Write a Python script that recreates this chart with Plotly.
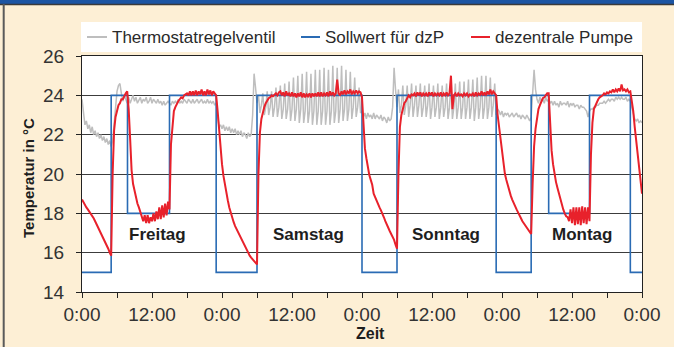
import plotly.graph_objects as go

STEP_H = 0.25  # sampling interval of the measured series (hours)

# Dezentrale Pumpe (red), one value every 0.25 h from Friday 0:00
pump_values = [
    18.7, 18.55, 18.45, 18.3, 18.2, 18.1, 18.0, 17.9, 17.75, 17.6, 17.45, 17.3,
    17.1, 16.95, 16.8, 16.65, 16.5, 16.35, 16.2, 16.0, 15.85, 20.0, 22.2, 22.9,
    23.2, 23.5, 23.6, 23.8, 23.8, 24.0, 24.1, 24.2, 23.3, 21.8, 20.2, 19.5,
    19.1, 18.8, 18.5, 18.3, 18.1, 17.8, 17.6, 17.9, 17.5, 17.9, 17.5, 17.8,
    17.6, 18.0, 17.6, 18.1, 17.7, 18.3, 17.7, 18.4, 17.8, 18.5, 17.9, 18.6,
    18.2, 21.5, 22.6, 23.2, 23.4, 23.6, 23.7, 23.8, 23.9, 23.85, 24.0, 24.05,
    24.1, 24.0, 24.2, 24.0, 24.2, 24.0, 24.25, 24.0, 24.2, 24.05, 24.3, 24.0,
    24.2, 24.0, 24.3, 24.05, 24.25, 24.0, 24.2, 24.1, 24.0, 23.2, 22.2, 21.2,
    20.5, 19.9, 19.4, 19.0, 18.65, 18.3, 18.0, 17.75, 17.55, 17.35, 17.2, 17.0,
    16.85, 16.7, 16.55, 16.4, 16.25, 16.1, 15.95, 15.85, 15.75, 15.65, 15.55, 15.45,
    15.4, 20.0, 22.1, 22.8, 23.2, 23.4, 23.6, 23.75, 23.85, 23.9, 24.0, 23.95,
    24.05, 24.1, 24.0, 24.15, 24.2, 24.0, 24.15, 23.95, 24.2, 24.0, 24.1, 23.95,
    24.15, 23.95, 24.1, 23.9, 24.1, 23.95, 24.15, 23.9, 24.1, 23.9, 24.05, 23.95,
    24.1, 23.9, 24.1, 23.95, 24.1, 23.95, 24.15, 23.95, 24.15, 23.95, 24.1, 24.0,
    24.15, 23.95, 24.2, 24.0, 24.15, 24.0, 24.1, 24.8, 24.1, 24.0, 24.2, 24.05,
    24.25, 24.05, 24.2, 24.1, 24.3, 24.05, 24.2, 24.1, 24.25, 24.1, 24.2, 24.15,
    23.9, 22.2, 21.3, 20.8, 20.3, 19.95, 19.7, 19.45, 19.0, 18.8, 18.65, 18.5,
    18.3, 18.15, 18.0, 17.8, 17.6, 17.4, 17.25, 17.1, 16.95, 16.8, 16.65, 16.4,
    16.2, 20.0, 22.4, 23.0, 23.4, 23.6, 23.7, 23.85, 24.0, 23.9, 24.05, 24.0,
    24.1, 23.95, 24.15, 24.0, 24.15, 23.95, 24.1, 24.0, 24.1, 23.95, 24.15, 24.0,
    24.15, 23.95, 24.1, 24.0, 24.1, 24.0, 24.15, 23.95, 24.1, 24.0, 24.15, 24.0,
    24.1, 25.0, 23.3, 24.0, 24.1, 23.95, 24.1, 24.0, 24.05, 23.95, 24.1, 24.0,
    24.1, 23.95, 24.05, 24.0, 24.1, 23.95, 24.15, 24.0, 24.1, 24.0, 24.2, 24.0,
    24.15, 24.0, 24.2, 24.05, 24.3, 24.05, 24.2, 24.1, 24.0, 23.0, 22.4, 21.7,
    21.0, 20.5, 20.0, 19.7, 19.4, 19.15, 18.9, 18.7, 18.5, 18.35, 18.2, 18.05,
    17.85, 17.75, 17.6, 17.5, 17.35, 17.25, 17.15, 17.05, 16.95, 19.5, 21.4, 22.3,
    22.9, 23.3, 23.5, 23.7, 23.85, 23.9, 24.0, 24.1, 24.1, 22.2, 21.2, 20.5,
    20.0, 19.6, 19.3, 19.0, 18.7, 18.4, 18.2, 18.0, 17.85, 17.8, 17.6, 18.2,
    17.5, 18.3, 17.4, 18.3, 17.45, 18.3, 17.4, 18.35, 17.5, 18.3, 17.45, 18.3,
    17.6, 21.0, 22.6, 23.3, 23.5, 23.7, 23.8, 23.9, 23.95, 24.0, 24.1, 24.05,
    24.15, 24.1, 24.2, 24.15, 24.3, 24.15, 24.3, 24.2, 24.35, 24.2, 24.55, 24.25,
    24.3, 24.2, 24.3, 24.15, 24.2, 23.8, 23.2, 22.4, 21.7, 21.0, 20.3, 19.6,
    19.0,
]

# Thermostatregelventil (grey), one value every 0.25 h from Friday 0:00
valve_values = [
    23.8, 23.0, 22.5, 22.7, 22.3, 22.5, 22.1, 22.4, 22.0, 22.2, 21.9, 22.1,
    21.8, 22.0, 21.7, 21.9, 21.6, 21.8, 21.5, 21.7, 21.4, 21.7, 22.6, 23.6,
    24.2, 24.5, 24.6, 24.1, 23.7, 24.0, 23.8, 23.6, 23.9, 23.6, 23.8, 24.0,
    23.7, 23.9, 23.6, 23.8, 23.9, 23.6, 23.8, 23.7, 23.9, 23.6, 23.7, 23.9,
    23.6, 23.8, 23.7, 23.6, 23.8, 23.6, 23.7, 23.5, 23.7, 23.5, 23.6, 23.7,
    23.6, 23.5, 23.7, 23.6, 23.7, 23.6, 23.8, 23.6, 23.7, 23.6, 23.8, 23.7,
    23.6, 23.8, 23.7, 23.6, 23.8, 23.6, 23.7, 23.8, 23.6, 23.7, 23.8, 23.6,
    23.7, 23.6, 23.8, 23.6, 23.7, 23.6, 23.7, 23.5, 23.6, 22.9, 22.4, 22.5,
    22.3, 22.5, 22.2, 22.4, 22.2, 22.4, 22.1, 22.3, 22.1, 22.3, 22.0, 22.2,
    22.0, 22.2, 21.9, 22.1, 22.0, 21.8, 22.1, 21.9, 22.0, 23.0, 25.1, 24.4,
    23.6, 24.0, 23.1, 23.5, 24.1, 23.0, 23.4, 24.2, 23.0, 23.4, 24.2, 22.9,
    23.4, 24.4, 22.9, 23.4, 24.5, 22.8, 23.3, 24.6, 22.8, 23.3, 24.7, 22.7,
    23.3, 24.9, 22.7, 23.3, 25.0, 22.6, 23.3, 25.1, 22.6, 23.2, 25.2, 22.6,
    23.2, 25.1, 22.5, 23.2, 25.3, 22.5, 23.2, 25.3, 22.5, 23.2, 25.4, 22.5,
    23.2, 25.3, 22.5, 23.2, 25.5, 22.6, 23.2, 25.4, 22.6, 23.3, 25.5, 22.7,
    23.3, 25.3, 22.7, 23.3, 25.2, 22.8, 23.4, 24.9, 22.9, 23.4, 24.4, 23.1,
    23.2, 22.9, 23.1, 22.8, 23.1, 22.9, 23.0, 22.8, 23.1, 22.8, 23.0, 22.9,
    22.8, 23.0, 22.7, 22.9, 22.8, 22.6, 22.9, 22.7, 22.8, 23.4, 25.4, 24.3,
    23.4, 24.3, 23.1, 23.5, 24.5, 23.0, 23.5, 24.5, 22.9, 23.5, 24.6, 22.9,
    23.5, 24.5, 22.9, 23.5, 24.6, 22.9, 23.4, 24.5, 22.9, 23.5, 24.6, 22.8,
    23.4, 24.5, 22.9, 23.4, 24.6, 22.8, 23.4, 24.5, 22.9, 23.4, 24.6, 22.8,
    23.4, 24.6, 22.8, 23.4, 24.6, 22.8, 23.4, 24.7, 22.8, 23.4, 24.7, 22.8,
    23.4, 24.8, 22.8, 23.4, 24.8, 22.7, 23.4, 24.9, 22.8, 23.4, 25.0, 22.8,
    23.4, 25.0, 22.8, 23.4, 24.9, 22.9, 23.5, 24.6, 23.0, 23.3, 23.2, 23.0,
    23.2, 22.9, 23.1, 23.0, 23.1, 22.9, 23.0, 23.1, 22.9, 23.0, 23.1, 22.9,
    23.0, 22.8, 23.0, 22.9, 22.8, 23.0, 22.8, 22.7, 22.9, 24.2, 25.3, 24.3,
    23.8, 23.6, 23.9, 23.7, 23.8, 23.6, 23.9, 23.7, 23.8, 23.6, 23.7, 23.5,
    23.7, 23.5, 23.6, 23.4, 23.7, 23.5, 23.6, 23.6, 23.5, 23.7, 23.4, 23.6,
    23.5, 23.6, 23.4, 23.5, 23.5, 23.3, 23.5, 23.4, 23.4, 23.3, 23.2, 22.9,
    23.2, 23.3, 23.3, 23.4, 23.4, 23.5, 23.5, 23.6, 23.6, 23.6, 23.7, 23.6,
    23.7, 23.8, 23.7, 23.8, 23.8, 23.7, 23.9, 23.8, 23.9, 23.8, 23.9, 23.8,
    23.8, 23.9, 23.7, 23.8, 23.7, 23.4, 23.0, 22.8, 22.7, 22.8, 22.6, 22.7,
    22.6,
]

# Sollwert für dzP (blue step function): switching times (h) and levels
setpoint_t = [0, 5, 7.8, 15, 23, 30, 48, 54, 71, 77, 80, 87, 94, 96]
setpoint_v = [15, 24, 18, 24, 15, 24, 15, 24, 15, 24, 18, 24, 15, 15]

series_names = ["Thermostatregelventil", "Sollwert für dzP", "dezentrale Pumpe"]
series_colors = ["#BEBEBE", "#2A6BB4", "#E8212B"]

day_labels = ["Freitag", "Samstag", "Sonntag", "Montag"]
day_label_t = [12.9, 38.8, 62.4, 85.7]
day_label_v = [16.9, 16.9, 16.9, 16.9]

x_tick_vals = list(range(0, 97, 6))
x_tick_text = ["0:00", "", "12:00", "", "0:00", "", "12:00", "", "0:00", "",
               "12:00", "", "0:00", "", "12:00", "", "0:00"]
y_tick_vals = [14, 16, 18, 20, 22, 24, 26]

pump_t = [i * STEP_H for i in range(len(pump_values))]
valve_t = [i * STEP_H for i in range(len(valve_values))]

FONT = "Liberation Sans"
TXT = "#2a2a2a"

fig = go.Figure()
fig.add_trace(go.Scatter(x=valve_t, y=valve_values, mode="lines", name=series_names[0],
                         line=dict(color=series_colors[0], width=1.5), showlegend=False))
fig.add_trace(go.Scatter(x=setpoint_t, y=setpoint_v, mode="lines", name=series_names[1],
                         line=dict(color=series_colors[1], width=1.6, shape="hv"), showlegend=False))
fig.add_trace(go.Scatter(x=pump_t, y=pump_values, mode="lines", name=series_names[2],
                         line=dict(color=series_colors[2], width=2), showlegend=False))

L, R, T, B = 82, 32, 56, 55
W, H = 674, 347
pw, ph = W - L - R, H - T - B


def px(xp):
    return (xp - L) / pw


def py(yp):
    return (H - B - yp) / ph


shapes = []
# top blue band and its dark edge, left grey frame line
shapes.append(dict(type="rect", xref="paper", yref="paper", x0=px(-5), x1=px(W + 5),
                   y0=py(4), y1=py(-5), fillcolor="#1C55A3", line=dict(width=0), layer="above"))
shapes.append(dict(type="line", xref="paper", yref="paper", x0=px(0), x1=px(W),
                   y0=py(4.5), y1=py(4.5), line=dict(color="#3a3a3a", width=1.5)))
shapes.append(dict(type="line", xref="paper", yref="paper", x0=px(3.7), x1=px(3.7),
                   y0=py(4), y1=py(H + 5), line=dict(color="#5a5a5a", width=2)))
# legend box
shapes.append(dict(type="rect", xref="paper", yref="paper", x0=px(81), x1=px(642),
                   y0=py(52), y1=py(22), fillcolor="white", line=dict(width=0), layer="below"))
legend_sample_x = [(87, 107), (301, 320), (471, 490)]
legend_text_x = [110, 323, 493]
leg_y = 37
annotations = []
for (a, b), tx, name, col in zip(legend_sample_x, legend_text_x, series_names, series_colors):
    shapes.append(dict(type="line", xref="paper", yref="paper", x0=px(a), x1=px(b),
                       y0=py(leg_y), y1=py(leg_y), line=dict(color=col, width=2)))
    annotations.append(dict(xref="paper", yref="paper", x=px(tx), y=py(leg_y + 0.5),
                            xanchor="left", yanchor="middle", showarrow=False, text=name,
                            font=dict(family=FONT, size=17, color=TXT)))

for lab, t, v in zip(day_labels, day_label_t, day_label_v):
    annotations.append(dict(x=t, y=v, xref="x", yref="y", text="<b>%s</b>" % lab,
                            showarrow=False, font=dict(family=FONT, size=17, color="#1e1e1e")))

annotations.append(dict(xref="paper", yref="paper", x=px(28), y=py(178), text="<b>Temperatur in °C</b>",
                        textangle=-90, showarrow=False, xanchor="center", yanchor="middle",
                        font=dict(family=FONT, size=15, color="#1e1e1e")))
annotations.append(dict(xref="paper", yref="paper", x=px(370), y=py(333), text="<b>Zeit</b>",
                        showarrow=False, xanchor="center", yanchor="middle",
                        font=dict(family=FONT, size=16, color="#1e1e1e")))

fig.update_layout(
    width=W, height=H,
    margin=dict(l=L, r=R, t=T, b=B),
    paper_bgcolor="#FDEFD5",
    plot_bgcolor="white",
    showlegend=False,
    shapes=shapes,
    annotations=annotations,
    font=dict(family=FONT, color=TXT),
)
fig.update_xaxes(range=[0, 96], tickvals=x_tick_vals, ticktext=x_tick_text,
                 showgrid=False, zeroline=False, showline=True, linecolor="#222", linewidth=1.2,
                 mirror=True, ticks="outside", ticklen=5, tickcolor="#222",
                 tickfont=dict(family=FONT, size=19, color="#333"))
fig.update_yaxes(range=[14, 26], tickvals=y_tick_vals,
                 showgrid=True, gridcolor="#3c3c3c", gridwidth=1, zeroline=False,
                 showline=True, linecolor="#222", linewidth=1.2, mirror=True,
                 ticks="outside", ticklen=5, tickcolor="#222", ticklabelstandoff=8,
                 tickfont=dict(family=FONT, size=19, color="#333"))

fig.write_html("out.html")
